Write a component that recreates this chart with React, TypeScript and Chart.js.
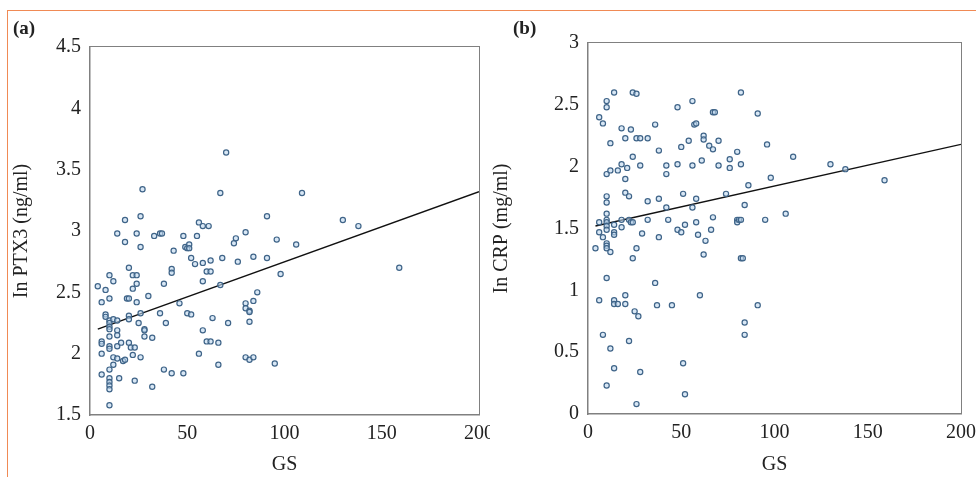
import React, { useEffect, useRef } from "react";
import Chart from "chart.js/auto";

// GS vs ln PTX3 (panel a)
const gsA = [4,6,6,6,6,6,8,8,8,10,10,10,10,10,10,10,10,10,10,10,10,10,10,10,12,12,12,12,14,14,14,14,14,14,15,16,17,18,18,18,19,20,20,20,20,20,21,22,22,22,23,23,24,24,24,24,25,26,26,26,26,27,28,28,28,30,32,32,33,36,37,36,38,38,39,42,42,42,43,46,48,48,49,50,50,51,51,52,52,54,55,56,56,58,58,58,58,60,60,61,62,62,62,63,66,66,67,68,67,70,71,74,75,76,80,80,80,80,82,82,82,82,84,84,84,86,91,91,95,96,98,106,109,130,138,159];
const ptx3 = [2.55,2.42,2.1,2.08,2.0,1.83,2.52,2.32,2.3,2.64,2.45,2.27,2.25,2.22,2.2,2.14,2.06,2.04,1.87,1.8,1.77,1.74,1.71,1.58,2.59,2.28,1.97,1.91,2.98,2.27,2.19,2.15,2.06,1.96,1.8,2.09,1.94,3.09,2.91,1.95,2.45,2.7,2.45,2.31,2.28,2.09,2.05,2.64,2.53,1.99,1.78,2.05,2.98,2.64,2.57,2.42,2.25,3.12,2.87,2.33,1.97,3.34,2.2,2.19,2.14,2.47,2.13,1.73,2.96,2.98,2.98,2.33,2.57,1.87,2.25,2.69,2.66,1.84,2.84,2.41,2.96,1.84,2.87,2.86,2.33,2.89,2.86,2.78,2.32,2.73,2.96,3.07,2.0,3.04,2.74,2.59,2.19,2.67,2.1,3.04,2.76,2.67,2.1,2.29,2.09,1.91,3.31,2.78,2.56,3.64,2.25,2.9,2.94,2.75,2.99,2.41,2.37,1.97,2.35,2.34,2.26,1.95,2.79,2.43,1.97,2.5,3.12,2.78,1.92,2.93,2.65,2.89,3.31,3.09,3.04,2.7];
const fitA = [{ x: 4, y: 2.2 }, { x: 200, y: 3.32 }];

// GS vs ln CRP (panel b)
const gsB = [4,6,6,6,6,8,8,8,10,10,10,10,10,10,10,10,10,10,10,10,10,10,10,12,12,12,12,14,14,14,14,14,14,14,16,16,18,18,18,18,20,20,20,20,20,21,22,22,22,23,23,24,24,24,24,25,26,26,26,26,27,28,28,28,29,32,32,32,36,36,37,38,38,38,42,42,42,43,45,48,48,48,50,50,51,51,52,52,54,56,56,56,57,58,58,58,59,60,61,62,62,62,63,65,66,67,67,67,68,70,70,74,76,76,80,80,80,81,82,82,82,82,83,84,84,84,86,91,91,95,96,98,106,110,130,138,159];
const crp = [1.34,2.4,1.55,1.47,0.92,2.35,0.64,1.43,2.53,2.48,1.94,1.76,1.71,1.62,1.57,1.55,1.52,1.49,1.38,1.36,1.34,1.1,0.23,2.19,1.97,1.31,0.53,2.6,1.53,1.47,1.45,0.92,0.89,0.37,1.97,0.89,2.31,2.02,1.57,1.51,2.23,1.9,1.79,0.96,0.89,1.99,1.76,1.57,0.59,2.3,1.55,2.6,2.08,1.26,1.55,0.83,2.59,2.23,1.34,0.08,0.79,2.23,2.01,0.34,1.46,2.23,1.72,1.57,2.34,1.06,0.88,2.13,1.74,1.43,2.01,1.94,1.67,1.57,0.88,2.48,2.02,1.49,2.16,1.47,1.78,0.41,1.53,0.16,2.21,2.53,2.01,1.67,2.34,2.35,1.74,1.55,1.45,0.96,2.05,2.25,2.22,1.29,1.4,2.17,1.49,2.14,1.59,2.44,2.44,2.21,2.01,1.78,2.06,1.99,2.12,1.57,1.55,1.57,2.6,2.02,1.57,1.26,1.26,1.69,0.74,0.64,1.85,2.43,0.88,1.57,2.18,1.91,1.62,2.08,2.02,1.98,1.89];
const fitB = [{ x: 4, y: 1.52 }, { x: 200, y: 2.18 }];

const xTicks = [0, 50, 100, 150, 200];
const yTicksA = [1.5, 2, 2.5, 3, 3.5, 4, 4.5];
const yTicksB = [0, 0.5, 1, 1.5, 2, 2.5, 3];

const serif = "Liberation Serif";
Chart.defaults.font.family = serif;
const frameColor = "#808080";

interface PanelProps {
  xs: number[];
  ys: number[];
  fit: { x: number; y: number }[];
  yTicks: number[];
  yTitle: string;
  yWidth: number;
  xHeight: number;
  pad: { top: number; right: number };
}

const Panel: React.FC<PanelProps> = ({ xs, ys, fit, yTicks, yTitle, yWidth, xHeight, pad }) => {
  const ref = useRef<HTMLCanvasElement | null>(null);

  useEffect(() => {
    if (!ref.current) return;
    const pts = xs.map((x, i) => ({ x, y: ys[i] }));
    const chart = new Chart(ref.current, {
      type: "scatter",
      data: {
        datasets: [
          {
            data: pts,
            pointRadius: 2.6,
            pointBorderWidth: 1.2,
            pointBorderColor: "#3f6488",
            pointBackgroundColor: "rgba(190,215,238,0.6)",
          },
          {
            type: "line",
            data: fit,
            borderColor: "#111",
            borderWidth: 1.4,
            pointRadius: 0,
          } as any,
        ],
      },
      options: {
        responsive: false,
        animation: false,
        layout: { padding: { top: pad.top, right: pad.right, left: 0, bottom: 0 } },
        plugins: { legend: { display: false }, tooltip: { enabled: false } },
        scales: {
          x: {
            type: "linear",
            min: 0,
            max: 200,
            afterBuildTicks: (s: any) => { s.ticks = xTicks.map((v) => ({ value: v })); },
            afterFit: (s: any) => { s.height = xHeight; s.paddingLeft = 0; s.paddingRight = 0; },
            grid: { display: false, drawTicks: true, tickLength: 6, tickColor: frameColor } as any,
            border: { color: frameColor, width: 1.5 },
            ticks: { color: "#222", font: { family: serif, size: 20 }, padding: 1, callback: (v: any) => String(v) },
            title: { display: true, text: "GS", color: "#222", font: { family: serif, size: 20 }, padding: 0 },
          },
          y: {
            type: "linear",
            min: yTicks[0],
            max: yTicks[yTicks.length - 1],
            afterBuildTicks: (s: any) => { s.ticks = yTicks.map((v) => ({ value: v })); },
            afterFit: (s: any) => { s.width = yWidth; s.paddingTop = 0; s.paddingBottom = 0; },
            grid: { display: false, drawTicks: true, tickLength: 6, tickColor: frameColor } as any,
            border: { color: frameColor, width: 1.5 },
            ticks: { color: "#222", font: { family: serif, size: 20 }, padding: 3, callback: (v: any) => String(v) },
            title: { display: true, text: yTitle, color: "#222", font: { family: serif, size: 20 }, padding: 2 },
          },
        },
      },
    });
    return () => chart.destroy();
  }, [xs, ys, fit, yTicks, yTitle, yWidth, xHeight, pad]);

  return <canvas ref={ref} width={488} height={477} style={{ display: "block" }} />;
};

const Frame: React.FC<{ l: number; t: number; r: number; b: number }> = ({ l, t, r, b }) => (
  <div style={{ position: "absolute", left: l, top: t, width: r - l, height: b - t, borderTop: `1.5px solid ${frameColor}`, borderRight: `1.5px solid ${frameColor}`, boxSizing: "border-box", pointerEvents: "none" }} />
);

const App: React.FC = () => (
  <div style={{ position: "fixed", left: 0, top: 0, width: 976, height: 477, background: "#fff", overflow: "hidden" }}>
    <div style={{ position: "absolute", left: 7, top: 10, right: 0, bottom: 0, borderTop: "1.5px solid #f08a55", borderLeft: "1.5px solid #f08a55" }} />
    <div style={{ position: "absolute", left: 8, top: 0, width: 482, overflow: "hidden" }}>
      <Panel xs={gsA} ys={ptx3} fit={fitA} yTicks={yTicksA} yTitle="In PTX3 (ng/ml)" yWidth={82} xHeight={62} pad={{ top: 47, right: 17 }} />
    </div>
    <div style={{ position: "absolute", left: 488, top: 0, width: 488, overflow: "hidden" }}>
      <Panel xs={gsB} ys={crp} fit={fitB} yTicks={yTicksB} yTitle="In CRP (mg/ml)" yWidth={100} xHeight={63} pad={{ top: 43, right: 15 }} />
    </div>
    <Frame l={90} t={46} r={480} b={415} />
    <Frame l={588} t={42} r={962} b={414} />
    <div style={{ position: "absolute", left: 13, top: 17, fontFamily: serif, fontWeight: "bold", fontSize: 19, color: "#222" }}>(a)</div>
    <div style={{ position: "absolute", left: 513, top: 17, fontFamily: serif, fontWeight: "bold", fontSize: 19, color: "#222" }}>(b)</div>
  </div>
);

export default App;
